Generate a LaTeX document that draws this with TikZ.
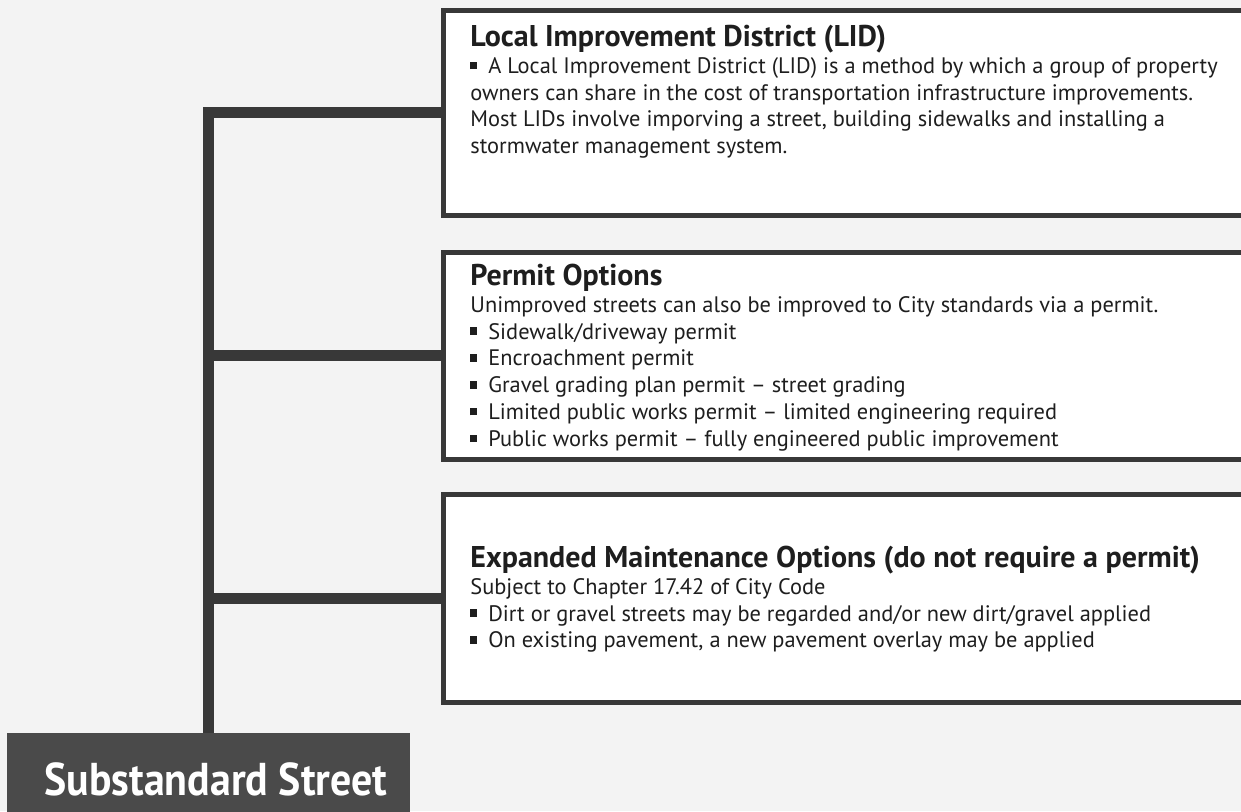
\documentclass[tikz,border=0pt]{standalone}
\usepackage{fontspec}
\setmainfont{PT Sans}
\newfontfamily\streetfont[FakeStretch=0.91]{PT Sans Bold}
\newfontfamily\titlefont{PT Sans Bold}
\usepackage{xcolor}
\definecolor{paper}{HTML}{F3F3F3}
\definecolor{boxline}{HTML}{383838}
\definecolor{streetfill}{HTML}{4A4A4A}
\definecolor{ink}{HTML}{1E1E1E}
\usetikzlibrary{positioning}
\newcommand{\sqb}{\rule[0.18em]{0.3em}{0.34em}\hspace{0.5em}}
\newcommand{\boxtitle}[1]{{\fontsize{15}{16}\titlefont\rule{0pt}{12pt}#1}}
\tikzset{
    infobox/.style = {draw=boxline, fill=white, line width=2.5pt,
                      minimum width=410pt, inner sep=0pt},
    boxtext/.style = {anchor=north west, inner sep=0pt, align=left,
                      text=ink, font=\fontsize{11.2}{13.4}\selectfont},
    trunk/.style = {draw=boxline, line width=5.5pt},
    street/.style = {fill=streetfill, text=white, inner sep=0pt,
                     minimum width=201.5pt, minimum height=46pt,
                     font=\fontsize{23}{24}\streetfont},
}

\begin{document}
\begin{tikzpicture}[x=0.5pt, y=-0.5pt]
    \clip (0,0) rectangle (1241,811);
    \fill[paper] (0,0) rectangle (1241,811);
    % option boxes
    \node[infobox, minimum height=102.5pt] (lid) at (853,112.5) {};
    \node[infobox, minimum height=103.5pt] (permit) at (853,355.5) {};
    \node[infobox, minimum height=104pt] (maint) at (853,598) {};
    % starting point
    \node[street] (street) at (208.5,779) {\hspace*{7.5pt}Substandard Street};
    % connectors
    \draw[trunk] (street.north) |- (lid.west);
    \draw[trunk] (street.north) |- (permit.west);
    \draw[trunk] (street.north) |- (maint.west);
    % texts (first baseline 24px below the node top)
    \node[boxtext] (lidtext) at (470,22) {\boxtitle{Local Improvement District (LID)}\\
        \sqb A Local Improvement District (LID) is a method by which a group of property\\
        owners can share in the cost of transportation infrastructure improvements.\\
        Most LIDs involve imporving a street, building sidewalks and installing a\\
        stormwater management system.};
    \node[boxtext] (permittext) at (470,261) {\boxtitle{Permit Options}\\
        Unimproved streets can also be improved to City standards via a permit.\\
        \sqb Sidewalk/driveway permit\\
        \sqb Encroachment permit\\
        \sqb Gravel grading plan permit -- street grading\\
        \sqb Limited public works permit -- limited engineering required\\
        \sqb Public works permit -- fully engineered public improvement};
    \node[boxtext] (mainttext) at (470,543) {\boxtitle{Expanded Maintenance Options (do not require a permit)}\\
        Subject to Chapter 17.42 of City Code\\
        \sqb Dirt or gravel streets may be regarded and/or new dirt/gravel applied\\
        \sqb On existing pavement, a new pavement overlay may be applied};
\end{tikzpicture}
\end{document}
